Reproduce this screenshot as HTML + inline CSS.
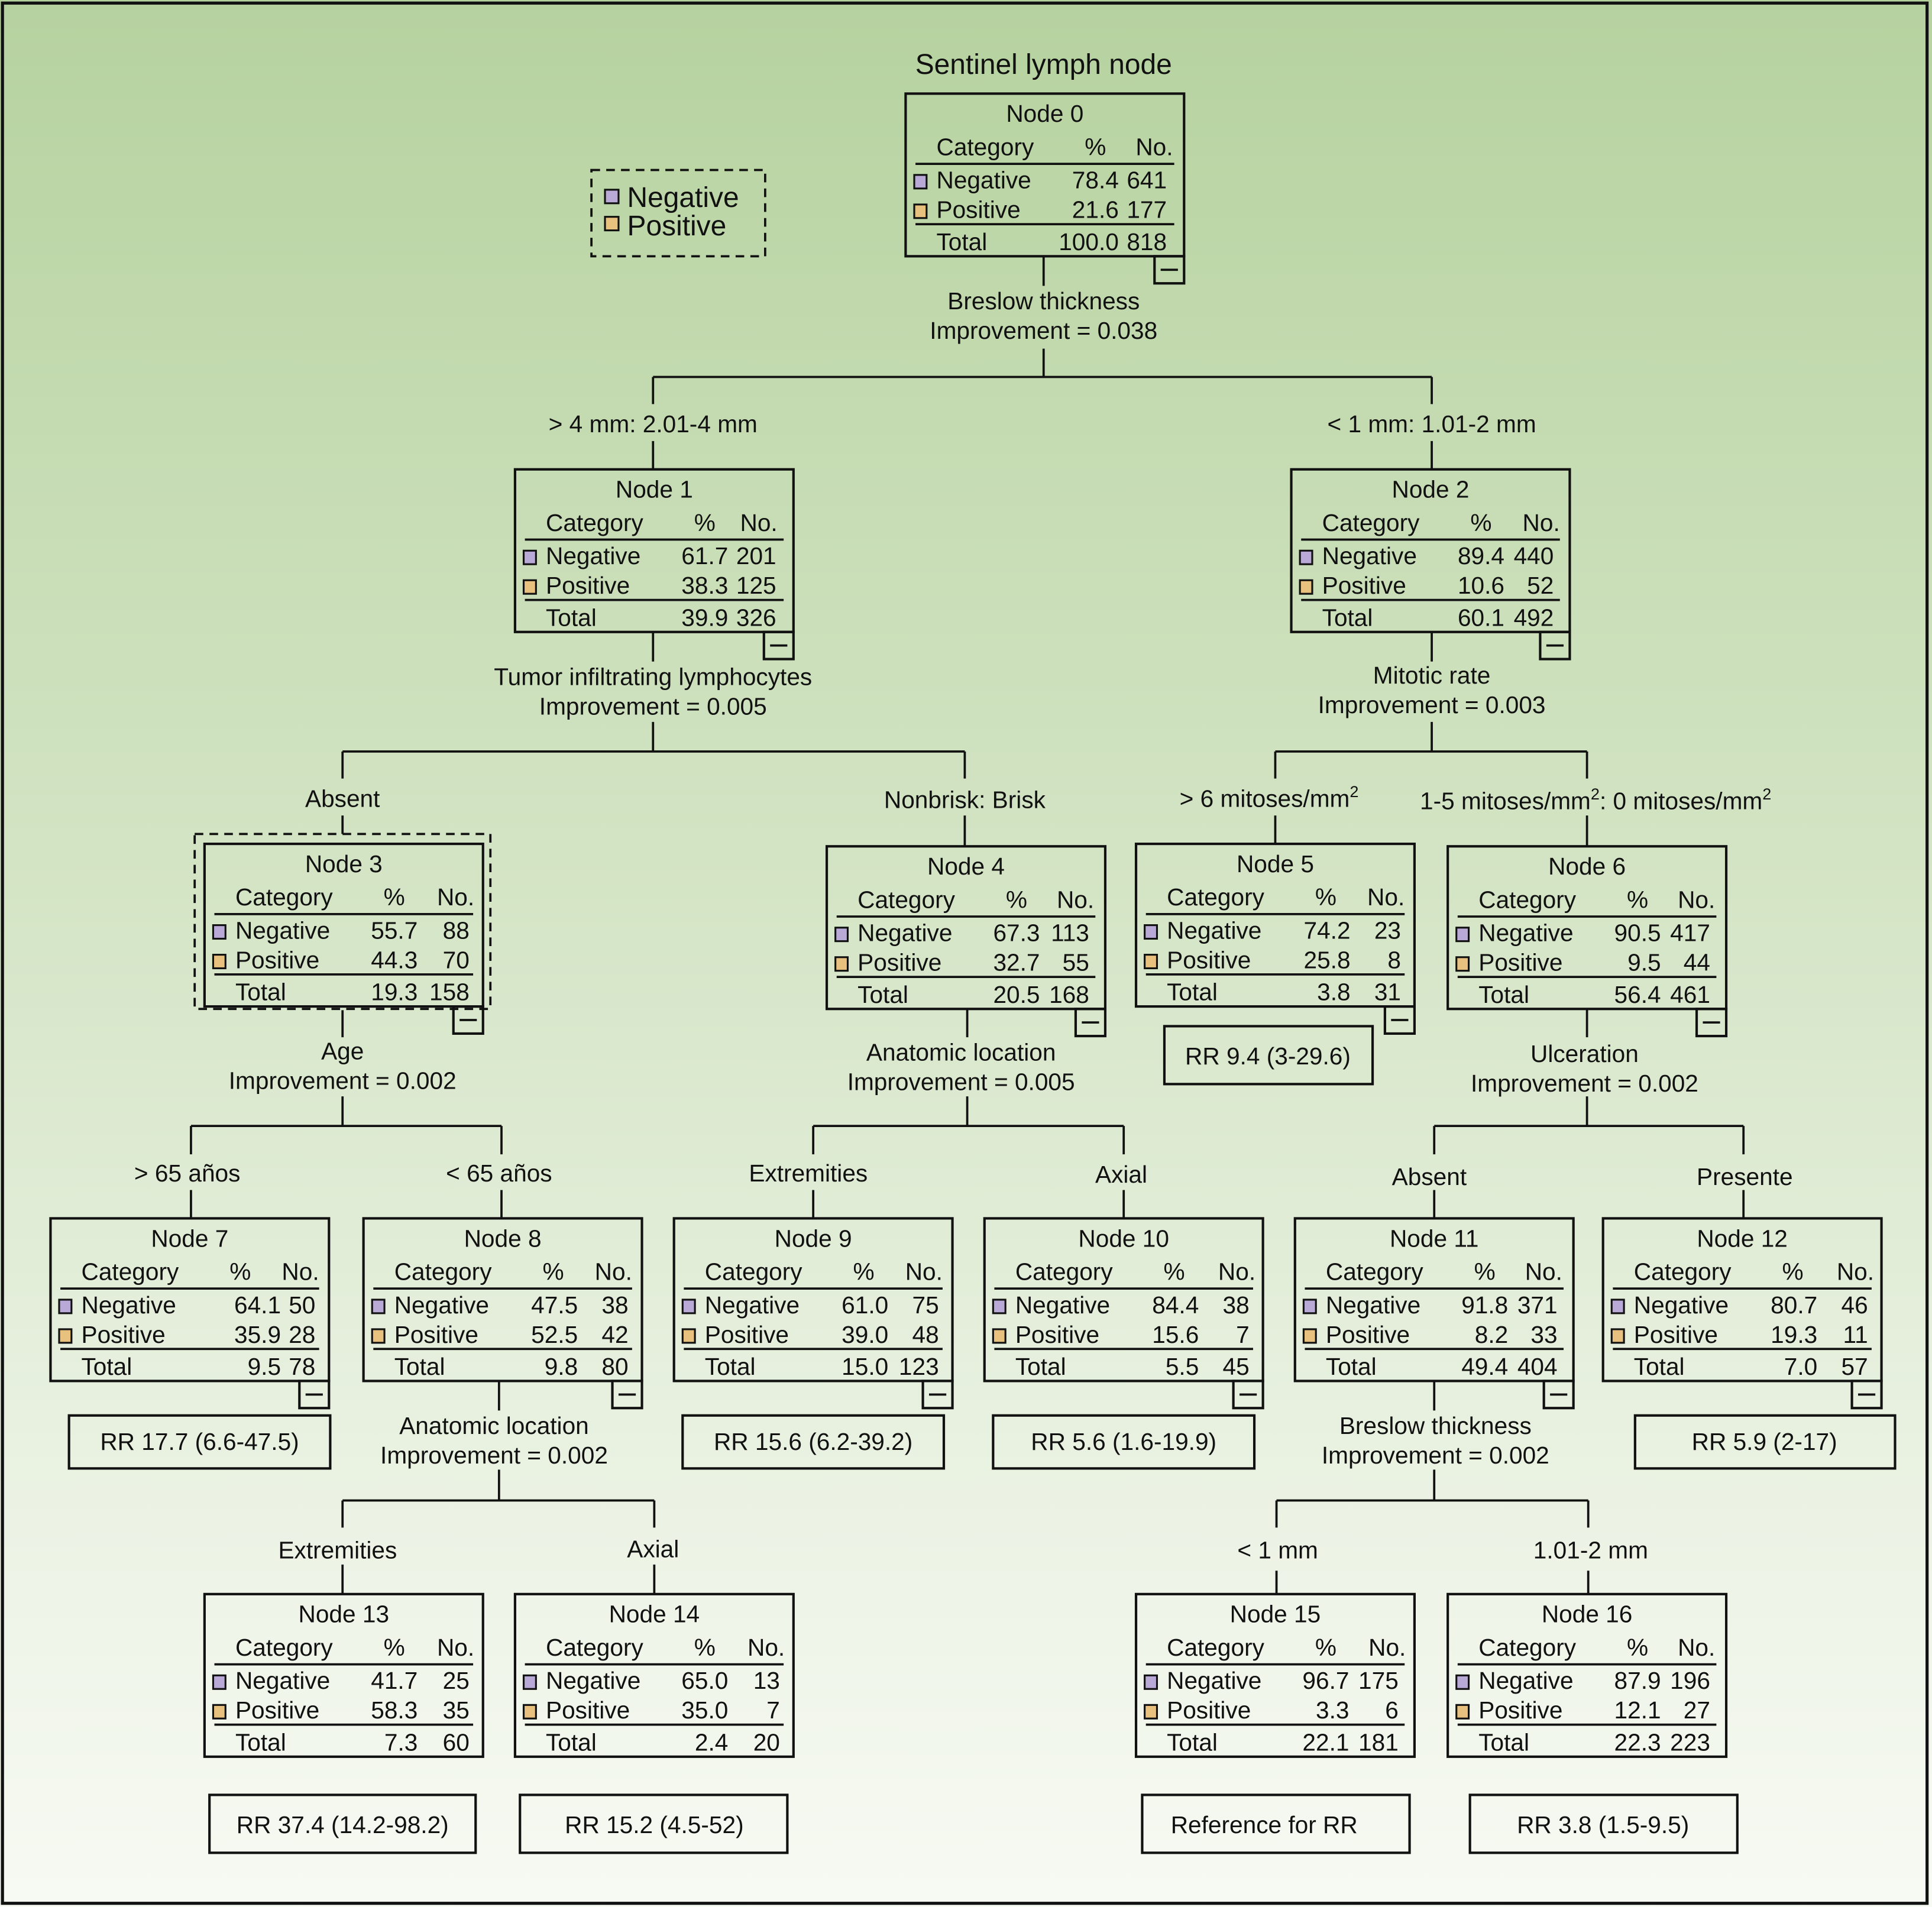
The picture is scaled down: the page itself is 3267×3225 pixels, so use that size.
<!DOCTYPE html>
<html><head><meta charset="utf-8"><style>
html,body{margin:0;padding:0;width:3267px;height:3225px;overflow:hidden;background:#fff}
svg{display:block}
text{font-family:"Liberation Sans",Arial,sans-serif;font-size:19.5px;fill:#111}
.m{text-anchor:middle}.e{text-anchor:end}
.b{fill:none;stroke:#111;stroke-width:2}
path,line{stroke:#111;stroke-width:1.8;fill:none}
.n{fill:#b9a9d6;stroke:#111;stroke-width:1.5}
.p{fill:#e8c17f;stroke:#111;stroke-width:1.5}
</style></head><body>
<svg width="3267" height="3225" viewBox="0 0 1568 1548" preserveAspectRatio="none">
<defs><linearGradient id="g" x1="0" y1="0" x2="0" y2="1">
<stop offset="0" stop-color="#b6d29f"/><stop offset="0.45" stop-color="#d3e4c4"/><stop offset="0.8" stop-color="#ecf3e5"/><stop offset="1" stop-color="#f7faf3"/></linearGradient></defs>
<rect x="0" y="0" width="1568" height="1548" fill="url(#g)"/>
<rect x="2" y="2.5" width="1562" height="1542.5" class="b" style="stroke-width:2.5"/>

<text x="847" y="60" class="m" style="font-size:23px">Sentinel lymph node</text>
<rect x="480" y="138" width="141" height="70" class="b" style="stroke-width:1.8;stroke-dasharray:7 5"/>
<rect class="n" x="491" y="154" width="11" height="11"/><text x="509" y="168" style="font-size:23px">Negative</text>
<rect class="p" x="491" y="176" width="11" height="11"/><text x="509" y="191" style="font-size:23px">Positive</text>

<!-- connectors -->
<path d="M847 208V232M847 283V306M530 306H1162M530 306V328M1162 306V328M530 358V381M1162 358V381"/>
<text x="847" y="251" class="m">Breslow thickness</text><text x="847" y="275" class="m">Improvement = 0.038</text>
<text x="530" y="351" class="m">&gt; 4 mm: 2.01-4 mm</text><text x="1162" y="351" class="m">&lt; 1 mm:  1.01-2 mm</text>

<path d="M530 513V537M530 586V610M278 610H783M278 610V632M783 610V632M278 662V677M783 662V687"/>
<text x="530" y="556" class="m">Tumor infiltrating lymphocytes</text><text x="530" y="580" class="m">Improvement = 0.005</text>
<text x="278" y="655" class="m">Absent</text><text x="783" y="656" class="m">Nonbrisk: Brisk</text>

<path d="M1162 513V537M1162 586V610M1035 610H1288M1035 610V632M1288 610V632M1035 662V685M1288 662V687"/>
<text x="1162" y="555" class="m">Mitotic rate</text><text x="1162" y="579" class="m">Improvement = 0.003</text>
<text x="1030" y="655" class="m">&gt; 6 mitoses/mm<tspan dy="-8" style="font-size:13px">2</tspan></text>
<text x="1295" y="657" class="m">1-5 mitoses/mm<tspan dy="-8" style="font-size:13px">2</tspan><tspan dy="8">: 0 mitoses/mm</tspan><tspan dy="-8" style="font-size:13px">2</tspan></text>

<path d="M278 820V842M278 890V914M155 914H407M155 914V937M407 914V937M155 966V989M407 966V989"/>
<text x="278" y="860" class="m">Age</text><text x="278" y="884" class="m">Improvement = 0.002</text>
<text x="152" y="959" class="m">&gt; 65 años</text><text x="405" y="959" class="m">&lt; 65 años</text>

<path d="M785 819V842M785 890V914M660 914H912M660 914V937M912 914V937M660 966V989M912 966V989"/>
<text x="780" y="861" class="m">Anatomic location</text><text x="780" y="885" class="m">Improvement = 0.005</text>
<text x="656" y="959" class="m">Extremities</text><text x="910" y="960" class="m">Axial</text>

<path d="M1288 819V842M1288 890V914M1164 914H1415M1164 914V937M1415 914V937M1164 966V989M1415 966V989"/>
<text x="1286" y="862" class="m">Ulceration</text><text x="1286" y="886" class="m">Improvement = 0.002</text>
<text x="1160" y="962" class="m">Absent</text><text x="1416" y="962" class="m">Presente</text>

<path d="M405 1121V1145M405 1193V1218M278 1218H531M278 1218V1240M531 1218V1240M278 1270V1294M531 1270V1294"/>
<text x="401" y="1164" class="m">Anatomic location</text><text x="401" y="1188" class="m">Improvement = 0.002</text>
<text x="274" y="1265" class="m">Extremities</text><text x="530" y="1264" class="m">Axial</text>

<path d="M1164 1121V1145M1164 1193V1218M1036 1218H1289M1036 1218V1240M1289 1218V1240M1036 1275V1294M1289 1275V1294"/>
<text x="1165" y="1164" class="m">Breslow thickness</text><text x="1165" y="1188" class="m">Improvement = 0.002</text>
<text x="1037" y="1265" class="m">&lt; 1 mm</text><text x="1291" y="1265" class="m">1.01-2 mm</text>

<rect x="158" y="677" width="240" height="142" class="b" style="stroke-width:1.8;stroke-dasharray:7 5"/>

<!-- RR boxes -->
<rect class="b" x="945" y="833" width="169" height="47"/><text x="1029" y="864" class="m">RR 9.4 (3-29.6)</text>
<rect class="b" x="56" y="1149" width="212" height="43"/><text x="162" y="1177" class="m">RR 17.7 (6.6-47.5)</text>
<rect class="b" x="554" y="1149" width="212" height="43"/><text x="660" y="1177" class="m">RR 15.6 (6.2-39.2)</text>
<rect class="b" x="806" y="1149" width="212" height="43"/><text x="912" y="1177" class="m">RR 5.6 (1.6-19.9)</text>
<rect class="b" x="1327" y="1149" width="211" height="43"/><text x="1432" y="1177" class="m">RR 5.9 (2-17)</text>
<rect class="b" x="170" y="1457" width="216" height="47"/><text x="278" y="1488" class="m">RR 37.4 (14.2-98.2)</text>
<rect class="b" x="422" y="1457" width="217" height="47"/><text x="531" y="1488" class="m">RR 15.2 (4.5-52)</text>
<rect class="b" x="927" y="1457" width="217" height="47"/><text x="1026" y="1488" class="m">Reference for RR</text>
<rect class="b" x="1193" y="1457" width="217" height="47"/><text x="1301" y="1488" class="m">RR 3.8 (1.5-9.5)</text>

<!-- nodes -->
<g transform="translate(735,76)"><rect class="b" width="226" height="132"/><text x="113" y="23" class="m">Node 0</text><text x="25" y="50">Category</text><text x="154" y="50" class="m">%</text><text x="217" y="50" class="e">No.</text><path d="M8 57H218M8 106H218"/><rect class="n" x="7" y="66" width="10" height="11"/><text x="25" y="77">Negative</text><text x="173" y="77" class="e">78.4</text><text x="212" y="77" class="e">641</text><rect class="p" x="7" y="90" width="10" height="11"/><text x="25" y="101">Positive</text><text x="173" y="101" class="e">21.6</text><text x="212" y="101" class="e">177</text><text x="25" y="127">Total</text><text x="173" y="127" class="e">100.0</text><text x="212" y="127" class="e">818</text><rect class="b" x="202" y="132" width="24" height="22"/><path d="M207 143H221"/></g>

<g transform="translate(418,381)"><rect class="b" width="226" height="132"/><text x="113" y="23" class="m">Node 1</text><text x="25" y="50">Category</text><text x="154" y="50" class="m">%</text><text x="213" y="50" class="e">No.</text><path d="M8 57H218M8 106H218"/><rect class="n" x="7" y="66" width="10" height="11"/><text x="25" y="77">Negative</text><text x="173" y="77" class="e">61.7</text><text x="212" y="77" class="e">201</text><rect class="p" x="7" y="90" width="10" height="11"/><text x="25" y="101">Positive</text><text x="173" y="101" class="e">38.3</text><text x="212" y="101" class="e">125</text><text x="25" y="127">Total</text><text x="173" y="127" class="e">39.9</text><text x="212" y="127" class="e">326</text><rect class="b" x="202" y="132" width="24" height="22"/><path d="M207 143H221"/></g>

<g transform="translate(1048,381)"><rect class="b" width="226" height="132"/><text x="113" y="23" class="m">Node 2</text><text x="25" y="50">Category</text><text x="154" y="50" class="m">%</text><text x="218" y="50" class="e">No.</text><path d="M8 57H218M8 106H218"/><rect class="n" x="7" y="66" width="10" height="11"/><text x="25" y="77">Negative</text><text x="173" y="77" class="e">89.4</text><text x="213" y="77" class="e">440</text><rect class="p" x="7" y="90" width="10" height="11"/><text x="25" y="101">Positive</text><text x="173" y="101" class="e">10.6</text><text x="213" y="101" class="e">52</text><text x="25" y="127">Total</text><text x="173" y="127" class="e">60.1</text><text x="213" y="127" class="e">492</text><rect class="b" x="202" y="132" width="24" height="22"/><path d="M207 143H221"/></g>

<g transform="translate(166,685)"><rect class="b" width="226" height="132"/><text x="113" y="23" class="m">Node 3</text><text x="25" y="50">Category</text><text x="154" y="50" class="m">%</text><text x="219" y="50" class="e">No.</text><path d="M8 57H218M8 106H218"/><rect class="n" x="7" y="66" width="10" height="11"/><text x="25" y="77">Negative</text><text x="173" y="77" class="e">55.7</text><text x="215" y="77" class="e">88</text><rect class="p" x="7" y="90" width="10" height="11"/><text x="25" y="101">Positive</text><text x="173" y="101" class="e">44.3</text><text x="215" y="101" class="e">70</text><text x="25" y="127">Total</text><text x="173" y="127" class="e">19.3</text><text x="215" y="127" class="e">158</text><rect class="b" x="202" y="132" width="24" height="22"/><path d="M207 143H221"/></g>

<g transform="translate(671,687)"><rect class="b" width="226" height="132"/><text x="113" y="23" class="m">Node 4</text><text x="25" y="50">Category</text><text x="154" y="50" class="m">%</text><text x="217" y="50" class="e">No.</text><path d="M8 57H218M8 106H218"/><rect class="n" x="7" y="66" width="10" height="11"/><text x="25" y="77">Negative</text><text x="173" y="77" class="e">67.3</text><text x="213" y="77" class="e">113</text><rect class="p" x="7" y="90" width="10" height="11"/><text x="25" y="101">Positive</text><text x="173" y="101" class="e">32.7</text><text x="213" y="101" class="e">55</text><text x="25" y="127">Total</text><text x="173" y="127" class="e">20.5</text><text x="213" y="127" class="e">168</text><rect class="b" x="202" y="132" width="24" height="22"/><path d="M207 143H221"/></g>

<g transform="translate(922,685)"><rect class="b" width="226" height="132"/><text x="113" y="23" class="m">Node 5</text><text x="25" y="50">Category</text><text x="154" y="50" class="m">%</text><text x="218" y="50" class="e">No.</text><path d="M8 57H218M8 106H218"/><rect class="n" x="7" y="66" width="10" height="11"/><text x="25" y="77">Negative</text><text x="174" y="77" class="e">74.2</text><text x="215" y="77" class="e">23</text><rect class="p" x="7" y="90" width="10" height="11"/><text x="25" y="101">Positive</text><text x="174" y="101" class="e">25.8</text><text x="215" y="101" class="e">8</text><text x="25" y="127">Total</text><text x="174" y="127" class="e">3.8</text><text x="215" y="127" class="e">31</text><rect class="b" x="202" y="132" width="24" height="22"/><path d="M207 143H221"/></g>

<g transform="translate(1175,687)"><rect class="b" width="226" height="132"/><text x="113" y="23" class="m">Node 6</text><text x="25" y="50">Category</text><text x="154" y="50" class="m">%</text><text x="217" y="50" class="e">No.</text><path d="M8 57H218M8 106H218"/><rect class="n" x="7" y="66" width="10" height="11"/><text x="25" y="77">Negative</text><text x="173" y="77" class="e">90.5</text><text x="213" y="77" class="e">417</text><rect class="p" x="7" y="90" width="10" height="11"/><text x="25" y="101">Positive</text><text x="173" y="101" class="e">9.5</text><text x="213" y="101" class="e">44</text><text x="25" y="127">Total</text><text x="173" y="127" class="e">56.4</text><text x="213" y="127" class="e">461</text><rect class="b" x="202" y="132" width="24" height="22"/><path d="M207 143H221"/></g>

<g transform="translate(41,989)"><rect class="b" width="226" height="132"/><text x="113" y="23" class="m">Node 7</text><text x="25" y="50">Category</text><text x="154" y="50" class="m">%</text><text x="218" y="50" class="e">No.</text><path d="M8 57H218M8 106H218"/><rect class="n" x="7" y="66" width="10" height="11"/><text x="25" y="77">Negative</text><text x="187" y="77" class="e">64.1</text><text x="215" y="77" class="e">50</text><rect class="p" x="7" y="90" width="10" height="11"/><text x="25" y="101">Positive</text><text x="187" y="101" class="e">35.9</text><text x="215" y="101" class="e">28</text><text x="25" y="127">Total</text><text x="187" y="127" class="e">9.5</text><text x="215" y="127" class="e">78</text><rect class="b" x="202" y="132" width="24" height="22"/><path d="M207 143H221"/></g>

<g transform="translate(295,989)"><rect class="b" width="226" height="132"/><text x="113" y="23" class="m">Node 8</text><text x="25" y="50">Category</text><text x="154" y="50" class="m">%</text><text x="218" y="50" class="e">No.</text><path d="M8 57H218M8 106H218"/><rect class="n" x="7" y="66" width="10" height="11"/><text x="25" y="77">Negative</text><text x="174" y="77" class="e">47.5</text><text x="215" y="77" class="e">38</text><rect class="p" x="7" y="90" width="10" height="11"/><text x="25" y="101">Positive</text><text x="174" y="101" class="e">52.5</text><text x="215" y="101" class="e">42</text><text x="25" y="127">Total</text><text x="174" y="127" class="e">9.8</text><text x="215" y="127" class="e">80</text><rect class="b" x="202" y="132" width="24" height="22"/><path d="M207 143H221"/></g>

<g transform="translate(547,989)"><rect class="b" width="226" height="132"/><text x="113" y="23" class="m">Node 9</text><text x="25" y="50">Category</text><text x="154" y="50" class="m">%</text><text x="218" y="50" class="e">No.</text><path d="M8 57H218M8 106H218"/><rect class="n" x="7" y="66" width="10" height="11"/><text x="25" y="77">Negative</text><text x="174" y="77" class="e">61.0</text><text x="215" y="77" class="e">75</text><rect class="p" x="7" y="90" width="10" height="11"/><text x="25" y="101">Positive</text><text x="174" y="101" class="e">39.0</text><text x="215" y="101" class="e">48</text><text x="25" y="127">Total</text><text x="174" y="127" class="e">15.0</text><text x="215" y="127" class="e">123</text><rect class="b" x="202" y="132" width="24" height="22"/><path d="M207 143H221"/></g>

<g transform="translate(799,989)"><rect class="b" width="226" height="132"/><text x="113" y="23" class="m">Node 10</text><text x="25" y="50">Category</text><text x="154" y="50" class="m">%</text><text x="220" y="50" class="e">No.</text><path d="M8 57H218M8 106H218"/><rect class="n" x="7" y="66" width="10" height="11"/><text x="25" y="77">Negative</text><text x="174" y="77" class="e">84.4</text><text x="215" y="77" class="e">38</text><rect class="p" x="7" y="90" width="10" height="11"/><text x="25" y="101">Positive</text><text x="174" y="101" class="e">15.6</text><text x="215" y="101" class="e">7</text><text x="25" y="127">Total</text><text x="174" y="127" class="e">5.5</text><text x="215" y="127" class="e">45</text><rect class="b" x="202" y="132" width="24" height="22"/><path d="M207 143H221"/></g>

<g transform="translate(1051,989)"><rect class="b" width="226" height="132"/><text x="113" y="23" class="m">Node 11</text><text x="25" y="50">Category</text><text x="154" y="50" class="m">%</text><text x="217" y="50" class="e">No.</text><path d="M8 57H218M8 106H218"/><rect class="n" x="7" y="66" width="10" height="11"/><text x="25" y="77">Negative</text><text x="173" y="77" class="e">91.8</text><text x="213" y="77" class="e">371</text><rect class="p" x="7" y="90" width="10" height="11"/><text x="25" y="101">Positive</text><text x="173" y="101" class="e">8.2</text><text x="213" y="101" class="e">33</text><text x="25" y="127">Total</text><text x="173" y="127" class="e">49.4</text><text x="213" y="127" class="e">404</text><rect class="b" x="202" y="132" width="24" height="22"/><path d="M207 143H221"/></g>

<g transform="translate(1301,989)"><rect class="b" width="226" height="132"/><text x="113" y="23" class="m">Node 12</text><text x="25" y="50">Category</text><text x="154" y="50" class="m">%</text><text x="220" y="50" class="e">No.</text><path d="M8 57H218M8 106H218"/><rect class="n" x="7" y="66" width="10" height="11"/><text x="25" y="77">Negative</text><text x="174" y="77" class="e">80.7</text><text x="215" y="77" class="e">46</text><rect class="p" x="7" y="90" width="10" height="11"/><text x="25" y="101">Positive</text><text x="174" y="101" class="e">19.3</text><text x="215" y="101" class="e">11</text><text x="25" y="127">Total</text><text x="174" y="127" class="e">7.0</text><text x="215" y="127" class="e">57</text><rect class="b" x="202" y="132" width="24" height="22"/><path d="M207 143H221"/></g>

<g transform="translate(166,1294)"><rect class="b" width="226" height="132"/><text x="113" y="23" class="m">Node 13</text><text x="25" y="50">Category</text><text x="154" y="50" class="m">%</text><text x="219" y="50" class="e">No.</text><path d="M8 57H218M8 106H218"/><rect class="n" x="7" y="66" width="10" height="11"/><text x="25" y="77">Negative</text><text x="173" y="77" class="e">41.7</text><text x="215" y="77" class="e">25</text><rect class="p" x="7" y="90" width="10" height="11"/><text x="25" y="101">Positive</text><text x="173" y="101" class="e">58.3</text><text x="215" y="101" class="e">35</text><text x="25" y="127">Total</text><text x="173" y="127" class="e">7.3</text><text x="215" y="127" class="e">60</text></g>

<g transform="translate(418,1294)"><rect class="b" width="226" height="132"/><text x="113" y="23" class="m">Node 14</text><text x="25" y="50">Category</text><text x="154" y="50" class="m">%</text><text x="219" y="50" class="e">No.</text><path d="M8 57H218M8 106H218"/><rect class="n" x="7" y="66" width="10" height="11"/><text x="25" y="77">Negative</text><text x="173" y="77" class="e">65.0</text><text x="215" y="77" class="e">13</text><rect class="p" x="7" y="90" width="10" height="11"/><text x="25" y="101">Positive</text><text x="173" y="101" class="e">35.0</text><text x="215" y="101" class="e">7</text><text x="25" y="127">Total</text><text x="173" y="127" class="e">2.4</text><text x="215" y="127" class="e">20</text></g>

<g transform="translate(922,1294)"><rect class="b" width="226" height="132"/><text x="113" y="23" class="m">Node 15</text><text x="25" y="50">Category</text><text x="154" y="50" class="m">%</text><text x="219" y="50" class="e">No.</text><path d="M8 57H218M8 106H218"/><rect class="n" x="7" y="66" width="10" height="11"/><text x="25" y="77">Negative</text><text x="173" y="77" class="e">96.7</text><text x="213" y="77" class="e">175</text><rect class="p" x="7" y="90" width="10" height="11"/><text x="25" y="101">Positive</text><text x="173" y="101" class="e">3.3</text><text x="213" y="101" class="e">6</text><text x="25" y="127">Total</text><text x="173" y="127" class="e">22.1</text><text x="213" y="127" class="e">181</text></g>

<g transform="translate(1175,1294)"><rect class="b" width="226" height="132"/><text x="113" y="23" class="m">Node 16</text><text x="25" y="50">Category</text><text x="154" y="50" class="m">%</text><text x="217" y="50" class="e">No.</text><path d="M8 57H218M8 106H218"/><rect class="n" x="7" y="66" width="10" height="11"/><text x="25" y="77">Negative</text><text x="173" y="77" class="e">87.9</text><text x="213" y="77" class="e">196</text><rect class="p" x="7" y="90" width="10" height="11"/><text x="25" y="101">Positive</text><text x="173" y="101" class="e">12.1</text><text x="213" y="101" class="e">27</text><text x="25" y="127">Total</text><text x="173" y="127" class="e">22.3</text><text x="213" y="127" class="e">223</text></g>
</svg>
</body></html>
